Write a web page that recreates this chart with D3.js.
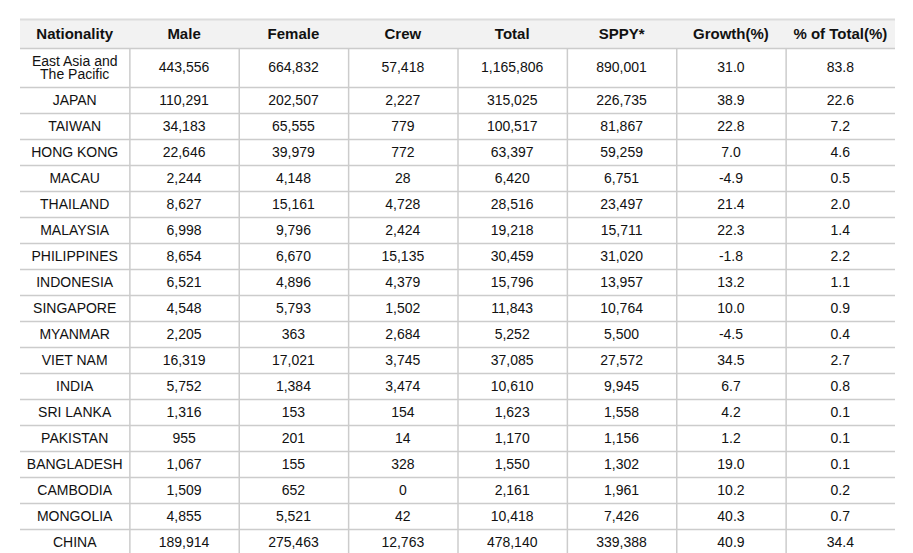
<!DOCTYPE html>
<html>
<head>
<meta charset="utf-8">
<script src="https://cdn.jsdelivr.net/npm/d3@7"></script>
<style>
  body { margin: 0; background: #fff; }
  svg { display: block; font-family: "Liberation Sans", Arial, sans-serif; }
</style>
</head>
<body>
<svg id="table"></svg>
<script>
// column headers
const columns = ['Nationality', 'Male', 'Female', 'Crew', 'Total', 'SPPY*', 'Growth(%)', '% of Total(%)'];

// row labels and values
const nationalities = ['East Asia and The Pacific', 'JAPAN', 'TAIWAN', 'HONG KONG', 'MACAU', 'THAILAND',
    'MALAYSIA', 'PHILIPPINES', 'INDONESIA', 'SINGAPORE', 'MYANMAR', 'VIET NAM', 'INDIA', 'SRI LANKA',
    'PAKISTAN', 'BANGLADESH', 'CAMBODIA', 'MONGOLIA', 'CHINA'];
const male = [443556, 110291, 34183, 22646, 2244, 8627, 6998, 8654, 6521, 4548, 2205, 16319, 5752, 1316,
    955, 1067, 1509, 4855, 189914];
const female = [664832, 202507, 65555, 39979, 4148, 15161, 9796, 6670, 4896, 5793, 363, 17021, 1384, 153,
    201, 155, 652, 5521, 275463];
const crew = [57418, 2227, 779, 772, 28, 4728, 2424, 15135, 4379, 1502, 2684, 3745, 3474, 154,
    14, 328, 0, 42, 12763];
const total = [1165806, 315025, 100517, 63397, 6420, 28516, 19218, 30459, 15796, 11843, 5252, 37085, 10610, 1623,
    1170, 1550, 2161, 10418, 478140];
const sppy = [890001, 226735, 81867, 59259, 6751, 23497, 15711, 31020, 13957, 10764, 5500, 27572, 9945, 1558,
    1156, 1302, 1961, 7426, 339388];
const growth = [31.0, 38.9, 22.8, 7.0, -4.9, 21.4, 22.3, -1.8, 13.2, 10.0, -4.5, 34.5, 6.7, 4.2,
    1.2, 19.0, 10.2, 40.3, 40.9];
const share = [83.8, 22.6, 7.2, 4.6, 0.5, 2.0, 1.4, 2.2, 1.1, 0.9, 0.4, 2.7, 0.8, 0.1,
    0.1, 0.1, 0.2, 0.7, 34.4];

const width = 913, height = 553;
const margin = { top: 19, left: 20, right: 18 };
const headerHeight = 29, rowHeight = 26, tallRowHeight = 39;

// plain hyphen for negatives, like the source page
const locale = d3.formatLocale({ decimal: '.', thousands: ',', grouping: [3], currency: ['', ''], minus: '-' });
const fmtInt = locale.format(',');
const fmtPct = locale.format('.1f');

const rows = nationalities.map((n, i) => [
    n, fmtInt(male[i]), fmtInt(female[i]), fmtInt(crew[i]), fmtInt(total[i]),
    fmtInt(sppy[i]), fmtPct(growth[i]), fmtPct(share[i])
]);

const svg = d3.select('#table')
    .attr('width', width)
    .attr('height', height);

const x = d3.scaleBand()
    .domain(columns)
    .range([margin.left, width - margin.right]);

// row heights: the first row wraps onto two lines
const heights = rows.map((r, i) => i === 0 ? tallRowHeight : rowHeight);
const tops = [0, ...d3.cumsum(heights)].map(d => d + margin.top + headerHeight);

// header
svg.append('rect')
    .attr('x', x.range()[0])
    .attr('y', margin.top)
    .attr('width', x.range()[1] - x.range()[0])
    .attr('height', headerHeight)
    .attr('fill', '#f2f2f2');

svg.append('line')
    .attr('x1', x.range()[0]).attr('x2', x.range()[1])
    .attr('y1', margin.top + 0.5).attr('y2', margin.top + 0.5)
    .attr('stroke', '#dcdcdc')
    .attr('stroke-width', 2);

svg.selectAll('text.head')
    .data(columns)
    .join('text')
    .attr('class', 'head')
    .attr('x', d => x(d) + x.bandwidth() / 2)
    .attr('y', margin.top + headerHeight / 2)
    .attr('dy', '0.35em')
    .attr('text-anchor', 'middle')
    .attr('font-size', 15)
    .attr('font-weight', 'bold')
    .attr('fill', '#111')
    .text(d => d);

// horizontal rules under header and every row
svg.selectAll('line.hrule')
    .data(tops)
    .join('line')
    .attr('class', 'hrule')
    .attr('x1', x.range()[0]).attr('x2', x.range()[1])
    .attr('y1', d => d + 0.5).attr('y2', d => d + 0.5)
    .attr('stroke', '#cccccc')
    .attr('stroke-width', 1.5);

// vertical rules between body columns
svg.selectAll('line.vrule')
    .data(columns.slice(1))
    .join('line')
    .attr('class', 'vrule')
    .attr('x1', d => x(d) + 0.5).attr('x2', d => x(d) + 0.5)
    .attr('y1', tops[0]).attr('y2', height)
    .attr('stroke', '#cccccc')
    .attr('stroke-width', 1.5);

// body cells
const rowG = svg.selectAll('g.row')
    .data(rows)
    .join('g')
    .attr('class', 'row')
    .attr('transform', (d, i) => `translate(0, ${tops[i] + heights[i] / 2})`);

rowG.selectAll('text')
    .data(d => d.map((v, j) => ({ v, col: columns[j] })))
    .join('text')
    .attr('x', d => x(d.col) + x.bandwidth() / 2)
    .attr('dy', '0.35em')
    .attr('text-anchor', 'middle')
    .attr('font-size', 14)
    .attr('fill', '#111')
    .text(d => d.v)
    .each(function (d) { wrap(d3.select(this), x.bandwidth() - 16); });

function wrap(text, maxWidth) {
    if (text.node().getComputedTextLength() <= maxWidth) return;
    const words = text.text().split(' ');
    const lines = [];
    let line = [];
    words.forEach(w => {
        line.push(w);
        text.text(line.join(' '));
        if (text.node().getComputedTextLength() > maxWidth && line.length > 1) {
            line.pop();
            lines.push(line.join(' '));
            line = [w];
        }
    });
    lines.push(line.join(' '));
    const lh = 13.5;
    const cx = text.attr('x');
    text.text(null).attr('dy', null);
    lines.forEach((l, k) => {
        text.append('tspan')
            .attr('x', cx)
            .attr('y', (k - (lines.length - 1) / 2) * lh)
            .attr('dy', '0.35em')
            .text(l);
    });
}
</script>
</body>
</html>
